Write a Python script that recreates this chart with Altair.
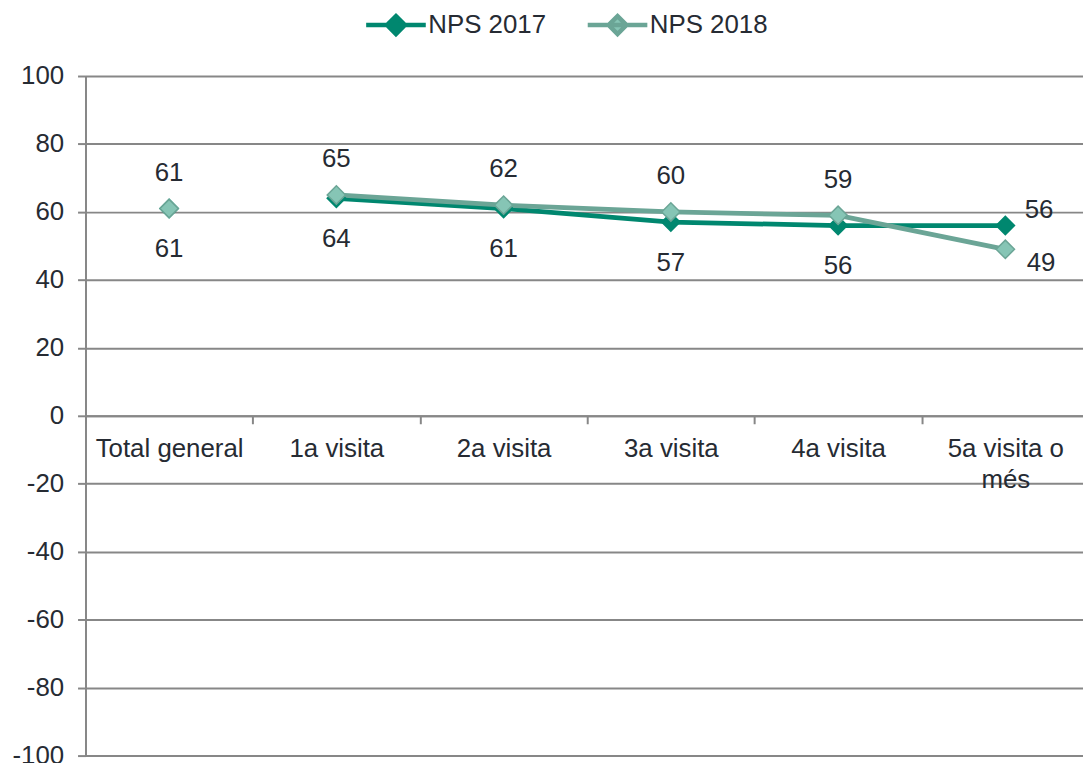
import altair as alt
import pandas as pd

categories = ["Total general", "1a visita", "2a visita", "3a visita", "4a visita", "5a visita o més"]
nps_2017 = [61, 64, 61, 57, 56, 56]
nps_2018 = [61, 65, 62, 60, 59, 49]
series_names = ["NPS 2017", "NPS 2018"]

rows = []
for name, vals in zip(series_names, [nps_2017, nps_2018]):
    for c, v in zip(categories, vals):
        rows.append({"category": c, "series": name, "value": v})
df = pd.DataFrame(rows)

TEXT = "#262B33"
GRID = "#878787"
FONT = "Liberation Sans"
FS = 26
line_colors = ["#00876F", "#6BA596"]
fill_colors = ["#00876F", "#86C5B5"]

legend_kw = dict(
    title=None,
    orient="none",
    legendX=280,
    legendY=-84,
    direction="horizontal",
    symbolType="M-1,0H1M0,-0.3L0.3,0L0,0.3L-0.3,0Z",
    symbolSize=3600,
    symbolStrokeWidth=4.5,
    labelFontSize=FS,
    labelColor=TEXT,
    labelFont=FONT,
    labelOffset=0,
    columnPadding=32,
)

x_enc = alt.X(
    "category:N",
    sort=categories,
    scale=alt.Scale(type="band", paddingInner=0, paddingOuter=0),
    axis=alt.Axis(
        title=None,
        orient="bottom",
        offset=-342,
        labelAngle=0,
        labelFontSize=FS,
        labelFont=FONT,
        labelColor=TEXT,
        labelPadding=12,
        labelLineHeight=31,
        labelExpr="datum.value == '5a visita o més' ? ['5a visita o', 'més'] : datum.value",
        domainColor=GRID,
        domainWidth=2,
        tickColor=GRID,
        tickWidth=2,
        tickSize=8,
        tickBand="extent",
        grid=False,
    ),
)
y_enc = alt.Y(
    "value:Q",
    scale=alt.Scale(domain=[-100, 100], nice=False, zero=False),
    axis=alt.Axis(
        title=None,
        values=list(range(-100, 101, 20)),
        labelExpr="'' + datum.value",
        labelFontSize=FS,
        labelFont=FONT,
        labelColor=TEXT,
        labelPadding=14,
        domainColor=GRID,
        domainWidth=2,
        tickColor=GRID,
        tickWidth=2,
        tickSize=8,
        gridColor=GRID,
        gridWidth=2,
    ),
)

stroke_enc = alt.Stroke(
    "series:N",
    scale=alt.Scale(domain=series_names, range=line_colors),
    legend=alt.Legend(**legend_kw),
)
fill_enc = alt.Fill(
    "series:N",
    scale=alt.Scale(domain=series_names, range=fill_colors),
    legend=alt.Legend(**legend_kw),
)

base = alt.Chart(df).encode(x=x_enc, y=y_enc)

lines = base.transform_filter("datum.category != 'Total general'").mark_line(
    strokeWidth=4.8
).encode(stroke=stroke_enc)

points = base.mark_point(shape="diamond", filled=True, size=340, strokeWidth=1.5, opacity=1).encode(
    stroke=stroke_enc, fill=fill_enc
)

txt = dict(fontSize=FS, font=FONT, color=TEXT, align="center", baseline="middle")
last = "5a visita o més"
t17 = base.transform_filter(f"datum.series == 'NPS 2017' && datum.category != '{last}'").mark_text(
    dy=41, **txt).encode(text="value:Q")
t18 = base.transform_filter(f"datum.series == 'NPS 2018' && datum.category != '{last}'").mark_text(
    dy=-36, **txt).encode(text="value:Q")
t17l = base.transform_filter(f"datum.series == 'NPS 2017' && datum.category == '{last}'").mark_text(
    dx=34, dy=-16, **txt).encode(text="value:Q")
t18l = base.transform_filter(f"datum.series == 'NPS 2018' && datum.category == '{last}'").mark_text(
    dx=36, dy=14, **txt).encode(text="value:Q")

chart = alt.layer(lines, points, t17, t18, t17l, t18l).properties(
    width=1010,
    height=684,
    autosize=alt.AutoSizeParams(type="none"),
    padding={"left": 78, "top": 66, "right": -6, "bottom": 5},
).configure_view(stroke=None).configure(background="white")

chart.save("out.html", embed_options={"renderer": "svg", "actions": False})
